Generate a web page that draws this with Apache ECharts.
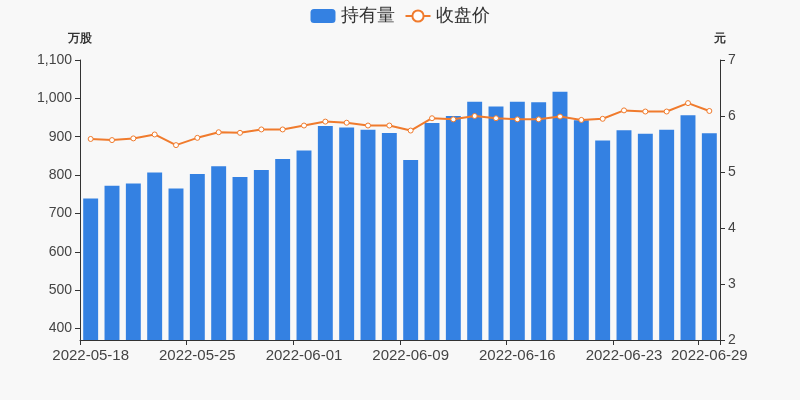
<!DOCTYPE html>
<html>
<head>
<meta charset="utf-8">
<script src="https://cdn.jsdelivr.net/npm/echarts@6/dist/echarts.min.js"></script>
<style>
html,body{margin:0;padding:0;background:#f8f8f8;}
#c{width:800px;height:400px;}
</style>
</head>
<body>
<div id="c"></div>
<script>
var categories = ['2022-05-18','2022-05-19','2022-05-20','2022-05-23','2022-05-24','2022-05-25','2022-05-26','2022-05-27','2022-05-30','2022-05-31',
  '2022-06-01','2022-06-02','2022-06-06','2022-06-07','2022-06-08','2022-06-09','2022-06-10','2022-06-13','2022-06-14','2022-06-15',
  '2022-06-16','2022-06-17','2022-06-20','2022-06-21','2022-06-22','2022-06-23','2022-06-24','2022-06-27','2022-06-28','2022-06-29'];
var holdings = [739,772,778,807,765,803,823,795,813,842,
  864,928,924,918,910,839,936,954,991,979,
  991,990,1017,943,890,917,908,918,956,909];
var closePrice = [5.59,5.57,5.60,5.67,5.48,5.61,5.71,5.70,5.76,5.76,
  5.83,5.90,5.88,5.83,5.83,5.74,5.96,5.94,6.00,5.96,
  5.94,5.94,5.99,5.93,5.95,6.10,6.08,6.08,6.23,6.09];
var leftTicks = [400,500,600,700,800,900,1000,1100];
var rightTicks = [2,3,4,5,6,7];

var chart = echarts.init(document.getElementById('c'));
var txt = '#444';
chart.setOption({
  backgroundColor: '#f8f8f8',
  animation: false,
  legend: {
    top: 2,
    left: 'center',
    itemWidth: 25,
    itemHeight: 14,
    itemGap: 10,
    textStyle: {fontSize: 18, color: '#333'},
    data: [{name: '持有量', icon: 'roundRect'}, {name: '收盘价'}]
  },
  grid: {left: 80, right: 80, top: 60, bottom: 60},
  xAxis: {
    type: 'category',
    data: categories,
    axisLine: {lineStyle: {color: '#333'}},
    axisTick: {show: true, interval: 4, lineStyle: {color: '#333'}},
    axisLabel: {interval: 4, showMaxLabel: true, fontSize: 15, color: txt}
  },
  yAxis: [{
    type: 'value',
    name: '万股',
    nameTextStyle: {fontWeight: 'bold', fontSize: 12, color: '#333'},
    min: 370,
    max: 1100,
    axisLine: {show: true, lineStyle: {color: '#333'}},
    axisTick: {show: true, customValues: leftTicks},
    splitLine: {show: false},
    axisLabel: {fontSize: 14, color: txt, customValues: leftTicks,
      formatter: function (v) { return v.toLocaleString('en-US'); }}
  }, {
    type: 'value',
    name: '元',
    nameTextStyle: {fontWeight: 'bold', fontSize: 12, color: '#333'},
    min: 2,
    max: 7,
    interval: 1,
    position: 'right',
    axisLine: {show: true, lineStyle: {color: '#333'}},
    axisTick: {show: true, customValues: rightTicks},
    splitLine: {show: false},
    axisLabel: {fontSize: 14, color: txt, customValues: rightTicks}
  }],
  series: [{
    name: '持有量',
    type: 'bar',
    yAxisIndex: 0,
    barWidth: '70%',
    itemStyle: {color: '#3481e2'},
    data: holdings
  }, {
    name: '收盘价',
    type: 'line',
    yAxisIndex: 1,
    symbol: 'circle',
    symbolSize: 5,
    itemStyle: {color: '#fff', borderColor: '#f07b2d', borderWidth: 1},
    lineStyle: {color: '#f07b2d', width: 2},
    data: closePrice
  }]
});
</script>
</body>
</html>
